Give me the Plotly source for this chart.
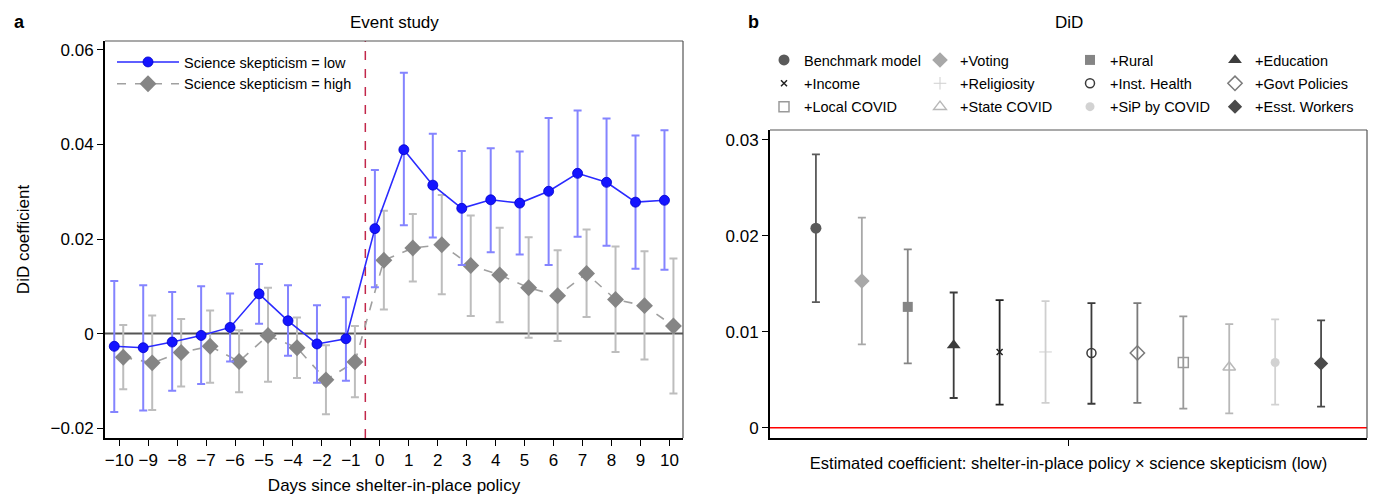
import plotly.graph_objects as go

# ---------------- Panel a: event study ----------------
days = [-10, -9, -8, -7, -6, -5, -4, -2, -1, 0, 1, 2, 3, 4, 5, 6, 7, 8, 9, 10]
day_labels = ["\u221210", "\u22129", "\u22128", "\u22127", "\u22126", "\u22125", "\u22124", "\u22122", "\u22121",
              "0", "1", "2", "3", "4", "5", "6", "7", "8", "9", "10"]

low_coef = [-0.0027, -0.0030, -0.0018, -0.0004, 0.0013, 0.0084, 0.0027, -0.0022, -0.0011,
            0.0222, 0.0389, 0.0314, 0.0265, 0.0283, 0.0276, 0.0301, 0.0339, 0.0320, 0.0278, 0.0282]
low_upper = [0.0111, 0.0102, 0.0088, 0.0100, 0.0085, 0.0147, 0.0102, 0.0060, 0.0077,
             0.0346, 0.0552, 0.0423, 0.0386, 0.0392, 0.0385, 0.0456, 0.0472, 0.0455, 0.0419, 0.0430]
low_lower = [-0.0166, -0.0163, -0.0121, -0.0107, -0.0059, 0.0021, -0.0047, -0.0104, -0.0100,
             0.0098, 0.0229, 0.0203, 0.0145, 0.0172, 0.0167, 0.0145, 0.0205, 0.0186, 0.0137, 0.0135]

high_coef = [-0.0050, -0.0062, -0.0040, -0.0027, -0.0059, -0.0004, -0.0030, -0.0098, -0.0060,
             0.0155, 0.0181, 0.0188, 0.0144, 0.0124, 0.0097, 0.0080, 0.0127, 0.0072, 0.0059, 0.0016]
high_upper = [0.0018, 0.0038, 0.0031, 0.0049, 0.0007, 0.0097, 0.0034, -0.0025, 0.0016,
              0.0260, 0.0253, 0.0293, 0.0250, 0.0224, 0.0204, 0.0176, 0.0220, 0.0184, 0.0174, 0.0159]
high_lower = [-0.0118, -0.0162, -0.0112, -0.0104, -0.0124, -0.0102, -0.0094, -0.0171, -0.0135,
              0.0051, 0.0110, 0.0083, 0.0037, 0.0024, -0.0009, -0.0016, 0.0035, -0.0039, -0.0055, -0.0127]

left_yticks = [-0.02, 0, 0.02, 0.04, 0.06]
left_yticktext = ["\u22120.02", "0", "0.02", "0.04", "0.06"]

# ---------------- Panel b: DiD ----------------
models = ["Benchmark model", "+Voting", "+Rural", "+Education",
          "+Income", "+Religiosity", "+Inst. Health", "+Govt Policies",
          "+Local COVID", "+State COVID", "+SiP by COVID", "+Esst. Workers"]
did_coef = [0.0208, 0.0153, 0.0126, 0.0086, 0.0079, 0.0079, 0.0078, 0.0078, 0.0068, 0.0063, 0.0068, 0.0067]
did_upper = [0.0285, 0.0219, 0.0186, 0.0141, 0.0133, 0.0132, 0.0130, 0.0130, 0.0116, 0.0108, 0.0113, 0.0112]
did_lower = [0.0131, 0.0087, 0.0067, 0.0031, 0.0024, 0.0026, 0.0025, 0.0026, 0.0020, 0.0015, 0.0024, 0.0022]

right_yticks = [0, 0.01, 0.02, 0.03]
right_yticktext = ["0", "0.01", "0.02", "0.03"]

# styles
model_symbols = ["circle", "diamond", "square", "triangle-up",
                 "x-thin-open", "cross-thin-open", "circle-open", "diamond-open",
                 "square-open", "triangle-up-open", "circle", "diamond"]
model_colors = ["#5a5a5a", "#a8a8a8", "#858585", "#3c3c3c",
                "#222222", "#cfcfcf", "#3a3a3a", "#7a7a7a",
                "#9a9a9a", "#b8b8b8", "#d2d2d2", "#4a4a4a"]
model_sizes = [11, 12, 10, 12, 6, 9, 9, 11, 10, 11, 9, 11]
model_lw = [0, 0, 0, 0, 1.5, 1, 1.5, 1.5, 1.5, 1.5, 0, 0]

FONT = "Liberation Sans, Arial, Helvetica, sans-serif"
W, H = 1379, 495
ML, MR, MT, MB = 105, 12, 41, 57
PW = W - ML - MR
PH = H - MT - MB


def px_x(px):
    return (px - ML) / PW


def px_y(py):
    return (H - MB - py) / PH


fig = go.Figure()

idx = list(range(len(days)))
low_x = [i - 0.17 for i in idx]
high_x = [i + 0.14 for i in idx]

fig.add_trace(go.Scatter(
    x=high_x, y=high_coef, mode="lines+markers", name="Science skepticism = high",
    line=dict(color="#a0a0a0", width=1.6, dash="dash"),
    marker=dict(symbol="diamond", size=13, color="#858585", line=dict(width=0)),
    error_y=dict(type="data", symmetric=False,
                 array=[u - c for u, c in zip(high_upper, high_coef)],
                 arrayminus=[c - l for c, l in zip(high_coef, high_lower)],
                 color="#bdbdbd", thickness=2, width=4),
    xaxis="x", yaxis="y", legend="legend5", legendrank=2))

fig.add_trace(go.Scatter(
    x=low_x, y=low_coef, mode="lines+markers", name="Science skepticism = low",
    line=dict(color="#2a2aff", width=1.6),
    marker=dict(symbol="circle", size=10, color="#1414ff", line=dict(width=0.8, color="#0000cc")),
    error_y=dict(type="data", symmetric=False,
                 array=[u - c for u, c in zip(low_upper, low_coef)],
                 arrayminus=[c - l for c, l in zip(low_coef, low_lower)],
                 color="#8484ff", thickness=2, width=4),
    xaxis="x", yaxis="y", legend="legend5", legendrank=1))

legend_names = ["legend", "legend2", "legend3", "legend4"]
for i, name in enumerate(models):
    col = i % 4
    fig.add_trace(go.Scatter(
        x=[i + 1], y=[did_coef[i]], mode="markers", name=name,
        legendgroup=name,
        marker=dict(symbol=model_symbols[i], size=model_sizes[i], color=model_colors[i],
                    line=dict(width=model_lw[i], color=model_colors[i])),
        error_y=dict(type="data", symmetric=False,
                     array=[did_upper[i] - did_coef[i]],
                     arrayminus=[did_coef[i] - did_lower[i]],
                     color=model_colors[i], thickness=1.8, width=4),
        xaxis="x2", yaxis="y2", legend=legend_names[col], legendrank=i))

left_dom = [0, px_x(683)]
right_dom = [px_x(770), 1]

axis_font = dict(family=FONT, size=17, color="black")

fig.update_layout(
    width=W, height=H,
    margin=dict(l=ML, r=MR, t=MT, b=MB, autoexpand=False),
    paper_bgcolor="white", plot_bgcolor="white",
    font=dict(family=FONT, size=15, color="black"),
    xaxis=dict(domain=left_dom, range=[-0.49, 19.47], tickvals=idx, ticktext=day_labels,
               showgrid=False, zeroline=False, showline=True, linecolor="black", linewidth=2,
               ticks="outside", ticklen=6, tickcolor="black", tickwidth=1, tickfont=axis_font,
               title=dict(text="Days since shelter-in-place policy", font=axis_font, standoff=12),
               anchor="y"),
    yaxis=dict(domain=[0, 1], range=[-0.0221, 0.0619], tickvals=left_yticks, ticktext=left_yticktext,
               showgrid=False, zeroline=False, showline=True, linecolor="black", linewidth=2,
               ticks="outside", ticklen=6, tickcolor="black", tickwidth=1, tickfont=axis_font,
               title=dict(text="DiD coefficient", font=axis_font, standoff=17),
               anchor="x"),
    xaxis2=dict(domain=right_dom, range=[0, 13], tickvals=[6.5], ticktext=[""],
                showticklabels=False,
                showgrid=False, zeroline=False, showline=True, linecolor="black", linewidth=2,
                ticks="outside", ticklen=6, tickcolor="black", tickwidth=1,
                title=dict(text="Estimated coefficient: shelter-in-place policy \u00d7 science skepticism (low)",
                           font=dict(family=FONT, size=16.5, color="black"), standoff=12),
                anchor="y2"),
    yaxis2=dict(domain=[0, px_y(130)], range=[-0.00107, 0.03104], tickvals=right_yticks,
                ticktext=right_yticktext,
                showgrid=False, zeroline=False, showline=True, linecolor="black", linewidth=2,
                ticks="outside", ticklen=6, tickcolor="black", tickwidth=1, tickfont=axis_font,
                anchor="x2"),
    showlegend=True,
)

leg_font = dict(family=FONT, size=14.5, color="black")
col_marker_px = [784, 940, 1090, 1235]
for name, mx in zip(legend_names, col_marker_px):
    fig.update_layout({name: dict(x=px_x(mx - 20), xanchor="left", y=px_y(44), yanchor="top",
                                  orientation="v", font=leg_font, bgcolor="rgba(0,0,0,0)",
                                  borderwidth=0, traceorder="grouped", tracegroupgap=1.5,
                                  itemclick=False)})

fig.update_layout(legend5=dict(x=px_x(112), xanchor="left", y=px_y(46), yanchor="top",
                               orientation="v", font=leg_font, bgcolor="rgba(0,0,0,0)",
                               borderwidth=0, itemwidth=62, traceorder="normal"))

shapes = [
    # top/right frame of panel a
    dict(type="line", xref="x domain", yref="y domain", x0=0, x1=1, y0=1, y1=1,
         line=dict(color="#555555", width=1.2)),
    dict(type="line", xref="x domain", yref="y domain", x0=1, x1=1, y0=0, y1=1,
         line=dict(color="#555555", width=1.2)),
    # zero line panel a
    dict(type="line", xref="x domain", yref="y", x0=0, x1=1, y0=0, y1=0,
         line=dict(color="#555555", width=2), layer="below"),
    # policy start line
    dict(type="line", xref="x", yref="y domain", x0=8.5, x1=8.5, y0=0, y1=1,
         line=dict(color="#c2274a", width=1.5, dash="dash"), layer="below"),
    # top/right frame of panel b
    dict(type="line", xref="x2 domain", yref="y2 domain", x0=0, x1=1, y0=1, y1=1,
         line=dict(color="#555555", width=1.2)),
    dict(type="line", xref="x2 domain", yref="y2 domain", x0=1, x1=1, y0=0, y1=1,
         line=dict(color="#555555", width=1.2)),
    # zero line panel b
    dict(type="line", xref="x2 domain", yref="y2", x0=0, x1=1, y0=0, y1=0,
         line=dict(color="#ff0000", width=1.5), layer="below"),
]
fig.update_layout(shapes=shapes)

title_font = dict(family=FONT, size=17, color="black")
annotations = [
    dict(text="Event study", xref="paper", yref="paper", x=(left_dom[0] + left_dom[1]) / 2,
         y=px_y(22), xanchor="center", yanchor="middle", showarrow=False, font=title_font),
    dict(text="DiD", xref="paper", yref="paper", x=(right_dom[0] + right_dom[1]) / 2,
         y=px_y(22), xanchor="center", yanchor="middle", showarrow=False, font=title_font),
    dict(text="<b>a</b>", xref="paper", yref="paper", x=px_x(12), y=px_y(22),
         xanchor="left", yanchor="middle", showarrow=False, font=dict(family=FONT, size=18, color="black")),
    dict(text="<b>b</b>", xref="paper", yref="paper", x=px_x(746), y=px_y(22),
         xanchor="left", yanchor="middle", showarrow=False, font=dict(family=FONT, size=18, color="black")),
]
fig.update_layout(annotations=annotations)

fig.write_html("out.html", config={"displayModeBar": False},
               post_script="document.body.style.margin='0px';")
